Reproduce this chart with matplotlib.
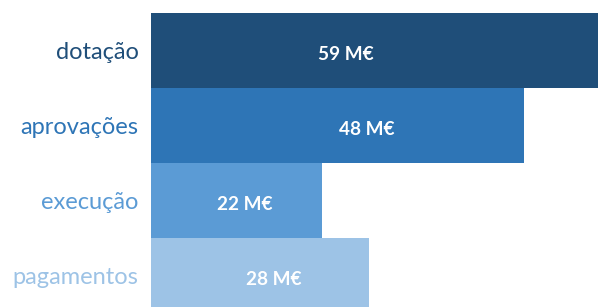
import matplotlib
matplotlib.use("Agg")
import matplotlib.pyplot as plt

categories = ["dotação", "aprovações", "execução", "pagamentos"]
values = [59, 48, 22, 28]
value_labels = ["59 M€", "48 M€", "22 M€", "28 M€"]
colors = ["#1F4E79", "#2E75B6", "#5B9BD5", "#9DC3E6"]


def plot_data():
	fig = plt.figure(figsize=(5.98, 3.07), dpi=100)
	ax = fig.add_axes([151/598, 0, 447/598, 294/307])
	y = range(len(categories))
	ax.barh(y, values, height=1.0, color=colors)
	ax.set_xlim(0, 57.5)
	ax.set_ylim(3.42, -0.5)

	# text position of the value labels inside the bars
	label_pos = [25.1, 27.7, 12.1, 15.8]
	for i, lab in enumerate(value_labels):
		ax.text(label_pos[i], i + 0.05, lab, color="white", fontsize=13.7, fontweight="bold",
			ha="center", va="center", family="Lato")

	ax.set_yticks(list(y))
	ax.set_yticklabels(categories, fontsize=17, family="Lato")
	for t, c in zip(ax.get_yticklabels(), colors):
		t.set_color(c)
	ax.tick_params(axis="y", length=0, pad=9)
	ax.set_xticks([])
	for s in ax.spines.values():
		s.set_visible(False)
	fig.savefig("out.png", dpi=100)


def main():
	plot_data()


if __name__ == "__main__":
	main()
